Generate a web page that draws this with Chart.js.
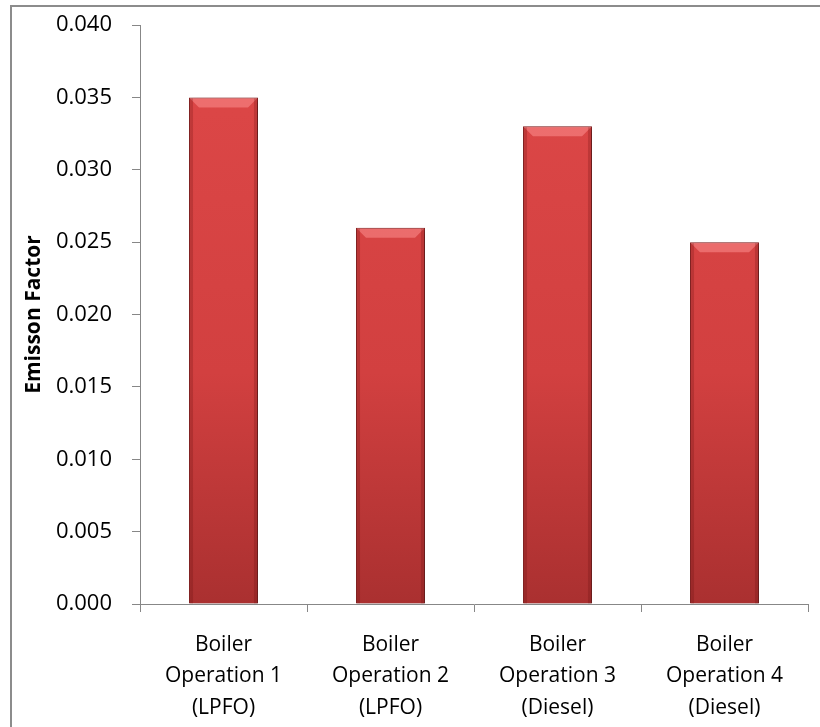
<!DOCTYPE html>
<html>
<head>
<meta charset="utf-8">
<script src="https://cdn.jsdelivr.net/npm/chart.js@4/dist/chart.umd.min.js"></script>
<style>
  html, body { margin: 0; padding: 0; background: #fff; }
  #wrap { position: relative; width: 820px; height: 727px; }
  #frame {
    position: absolute; left: 10px; top: 5px; right: -10px; bottom: -10px;
    border-left: 2px solid #8c8c8c; border-top: 2px solid #8c8c8c;
    pointer-events: none;
  }
</style>
</head>
<body>
<div id="wrap">
  <canvas id="chart" width="820" height="727"></canvas>
  <div id="frame"></div>
</div>
<script>
// 데이터
const categories = [
  ['Boiler', 'Operation 1', '(LPFO)'],
  ['Boiler', 'Operation 2', '(LPFO)'],
  ['Boiler', 'Operation 3', '(Diesel)'],
  ['Boiler', 'Operation 4', '(Diesel)']
];
const emissionFactor = [0.035, 0.026, 0.033, 0.025];
const yTicks = [0, 0.005, 0.010, 0.015, 0.020, 0.025, 0.030, 0.035, 0.040];

const axisColor = '#878787';
const font = 'Open Sans';

// 막대 그림자 + 베벨
const shadowPlugin = {
  id: 'barShadow',
  beforeDatasetsDraw(chart) {
    const ctx = chart.ctx;
    ctx.save();
    ctx.shadowColor = 'rgba(0,0,0,0.35)';
    ctx.shadowBlur = 6;
    ctx.shadowOffsetX = 2;
    ctx.shadowOffsetY = 2;
  },
  afterDatasetsDraw(chart) {
    chart.ctx.restore();
    const ctx = chart.ctx;
    const meta = chart.getDatasetMeta(0);
    meta.data.forEach(bar => {
      const l = bar.x - bar.width / 2, r = bar.x + bar.width / 2;
      const t = bar.y, b = bar.base;
      const d = 10;
      ctx.save();
      ctx.fillStyle = 'rgba(255,150,150,0.5)';
      ctx.beginPath();
      ctx.moveTo(l + 1, t + 1);
      ctx.lineTo(r - 1, t + 1);
      ctx.lineTo(r - d, t + d);
      ctx.lineTo(l + d, t + d);
      ctx.closePath();
      ctx.fill();
      ctx.fillStyle = 'rgba(90,10,10,0.22)';
      ctx.fillRect(l + 1, t + 1, 3, b - t - 1);
      ctx.fillRect(r - 4, t + 1, 3, b - t - 1);
      ctx.restore();
    });
  }
};

new Chart(document.getElementById('chart'), {
  type: 'bar',
  data: {
    labels: categories,
    datasets: [{
      label: 'Emisson Factor',
      data: emissionFactor,
      backgroundColor: function(context) {
        const area = context.chart.chartArea;
        if (!area) return '#d64040';
        const g = context.chart.ctx.createLinearGradient(0, area.top, 0, area.bottom);
        g.addColorStop(0, '#de4848');
        g.addColorStop(0.6, '#d24040');
        g.addColorStop(1, '#aa3030');
        return g;
      },
      borderColor: '#8a2222',
      borderWidth: 1,
      categoryPercentage: 1,
      barPercentage: 0.413
    }]
  },
  options: {
    responsive: false,
    animation: false,
    layout: { padding: { top: 25, right: 12, left: 0, bottom: 0 } },
    plugins: {
      legend: { display: false },
      tooltip: { enabled: false }
    },
    scales: {
      x: {
        afterFit: function(scale) {
          scale.height = 123;
          scale.paddingLeft = 0;
          scale.paddingRight = 0;
        },
        grid: {
          display: true,
          drawOnChartArea: false,
          color: axisColor,
          tickLength: 8,
          offset: true
        },
        border: { color: axisColor, width: 1 },
        ticks: {
          color: '#000',
          padding: 17,
          maxRotation: 0,
          font: { family: font, size: 21, lineHeight: 1.5 }
        }
      },
      y: {
        min: 0,
        max: 0.04,
        afterBuildTicks: function(scale) {
          scale.ticks = yTicks.map(v => ({ value: v }));
        },
        afterFit: function(scale) {
          scale.width = 140;
          scale.paddingTop = 0;
          scale.paddingBottom = 0;
        },
        grid: {
          display: true,
          drawOnChartArea: false,
          color: axisColor,
          tickLength: 8
        },
        border: { color: axisColor, width: 1 },
        ticks: {
          color: '#000',
          padding: 20,
          font: { family: font, size: 22 },
          callback: v => v.toFixed(3)
        },
        title: {
          display: true,
          text: 'Emisson Factor',
          color: '#000',
          padding: { top: 21, bottom: 0 },
          font: { family: font, size: 21, weight: 'bold' }
        }
      }
    }
  },
  plugins: [shadowPlugin]
});
</script>
</body>
</html>
